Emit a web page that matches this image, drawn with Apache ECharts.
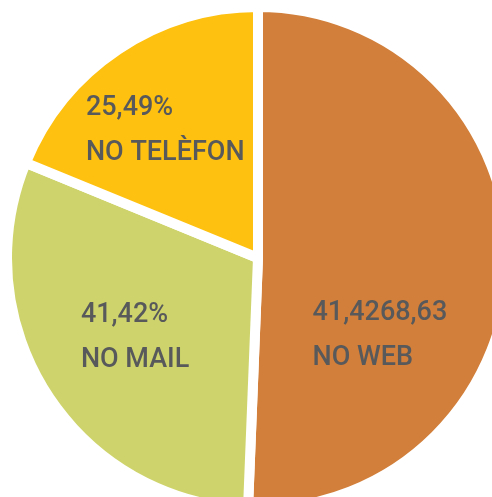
<!DOCTYPE html>
<html>
<head>
<meta charset="utf-8">
<script src="https://cdn.jsdelivr.net/npm/echarts@6/dist/echarts.min.js"></script>
<style>
  html, body { margin: 0; padding: 0; background: #ffffff; }
  #chart { width: 492px; height: 497px; }
</style>
</head>
<body>
<div id="chart"></div>
<script>
  // dades
  const categories = ['NO WEB', 'NO MAIL', 'NO TELÈFON'];
  const values = [68.63, 41.42, 25.49];
  // texts tal com surten a la imatge
  const valueLabels = ['41,4268,63', '41,42%', '25,49%'];
  const colors = ['#D17F3A', '#CED46B', '#FEC10F'];
  // desplaçament de cada etiqueta respecte al centre del sector
  const labelOffsets = [[6, 75], [11, 10], [-20.5, -21]];

  const chart = echarts.init(document.getElementById('chart'));

  const seriesData = categories.map((name, i) => ({
    name: name,
    value: values[i],
    itemStyle: { color: colors[i] },
    label: {
      offset: labelOffsets[i],
      formatter: '{t|' + valueLabels[i] + '}\n{t|' + name + '}'
    }
  }));

  chart.setOption({
    animation: false,
    series: [{
      type: 'pie',
      center: [258, 258],
      radius: [0, 251],
      startAngle: 90,
      clockwise: true,
      avoidLabelOverlap: false,
      itemStyle: {
        borderColor: '#ffffff',
        borderWidth: 10
      },
      emphasis: { disabled: true },
      labelLine: { show: false },
      label: {
        show: true,
        position: 'inside',
        rotate: 0,
        rich: {
          t: {
            width: 160,
            align: 'left',
            fontFamily: 'Roboto',
            fontWeight: 500,
            fontSize: 27,
            lineHeight: 45,
            color: '#58595B'
          }
        }
      },
      data: seriesData
    }]
  });
</script>
</body>
</html>
